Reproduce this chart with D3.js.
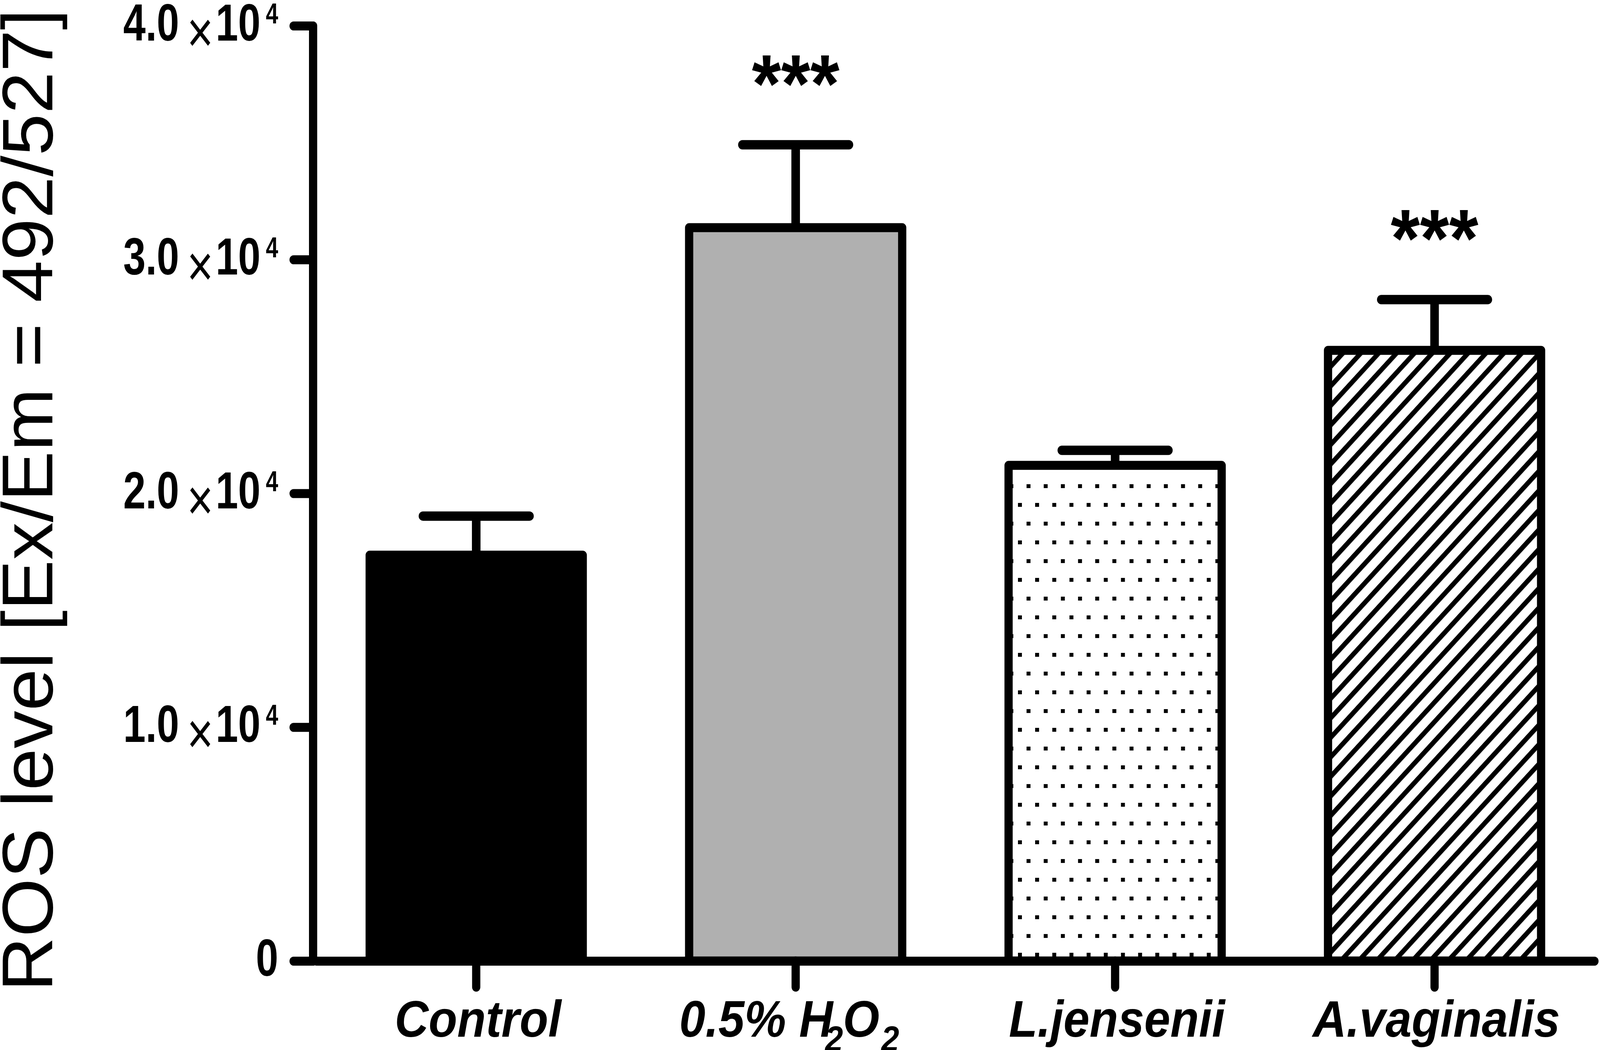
<!DOCTYPE html>
<html>
<head>
<meta charset="utf-8">
<script src="https://cdn.jsdelivr.net/npm/d3@7"></script>
<style>
  html, body { margin: 0; padding: 0; background: #ffffff; overflow: hidden; }
  svg { display: block; }
</style>
</head>
<body>
<script>
// ---------------- data ----------------
const categories = ["Control", "0.5% H2O2", "L.jensenii", "A.vaginalis"];
const means = [17356, 31364, 21197, 26117];
const sems = [1673, 3548, 644, 2172];
const significance = ["", "***", "", "***"];
const yTickValues = [0, 10000, 20000, 30000, 40000];
const yTickMantissa = ["0", "1.0", "2.0", "3.0", "4.0"];
const yTickExponent = ["", "4", "4", "4", "4"];
const yTitle = "ROS level [Ex/Em = 492/527]";

// ---------------- styling ----------------
const barFills = ["#000000", "url(#grayFill)", "url(#dotFill)", "url(#hatchFill)"];
const FONT = "'Liberation Sans', Arial, Helvetica, sans-serif";
const LW = 23;

const W = 4474, H = 2689;
const vw = window.innerWidth || W, vh = window.innerHeight || H;
const svg = d3.select("body").append("svg")
  .attr("width", vw).attr("height", vh)
  .attr("viewBox", `0 0 ${W} ${H}`)
  .attr("preserveAspectRatio", "none");
svg.append("rect").attr("width", W).attr("height", H).attr("fill", "#ffffff");

const x = d3.scaleBand().domain(categories)
  .range([885, 4458]).paddingInner(0.333).paddingOuter(0.1665);
const y = d3.scaleLinear().domain([0, 40000]).range([2461, 66]);

// ---------------- patterns ----------------
const defs = svg.append("defs");
defs.append("pattern").attr("id", "grayFill")
  .attr("patternUnits", "userSpaceOnUse").attr("width", 4).attr("height", 4)
  .append("rect").attr("width", 4).attr("height", 4).attr("fill", "#b0b0b0");

const dot = defs.append("pattern").attr("id", "dotFill")
  .attr("patternUnits", "userSpaceOnUse")
  .attr("x", 2870.5).attr("y", 2008).attr("width", 48).attr("height", 96);
dot.append("rect").attr("width", 48).attr("height", 96).attr("fill", "#fff");
dot.append("rect").attr("x", 0).attr("y", 0).attr("width", 11).attr("height", 10).attr("fill", "#000");
dot.append("rect").attr("x", 24).attr("y", 48).attr("width", 11).attr("height", 10).attr("fill", "#000");

const hatch = defs.append("pattern").attr("id", "hatchFill")
  .attr("patternUnits", "userSpaceOnUse")
  .attr("width", 35.36).attr("height", 35.36)
  .attr("patternTransform", "rotate(45)");
hatch.append("rect").attr("width", 35.36).attr("height", 35.36).attr("fill", "#fff");
hatch.append("rect").attr("x", 0).attr("width", 12.7).attr("height", 35.36).attr("fill", "#000");

// ---------------- bars ----------------
const rows = categories.map((c, i) => ({ c, i, m: means[i], e: sems[i], s: significance[i] }));
const bw = x.bandwidth();

svg.append("g").selectAll("rect").data(rows).join("rect")
  .attr("x", d => x(d.c))
  .attr("y", d => y(d.m))
  .attr("width", bw)
  .attr("height", d => y(0) - y(d.m))
  .attr("fill", d => barFills[d.i])
  .attr("stroke", "#000")
  .attr("stroke-width", LW)
  .attr("stroke-linejoin", "round");

// ---------------- error bars ----------------
const eg = svg.append("g").attr("stroke", "#000").attr("stroke-width", 24);
eg.selectAll("line.v").data(rows).join("line").attr("class", "v")
  .attr("x1", d => x(d.c) + bw / 2).attr("x2", d => x(d.c) + bw / 2)
  .attr("y1", d => y(d.m)).attr("y2", d => y(d.m + d.e));
eg.selectAll("line.cap").data(rows).join("line").attr("class", "cap")
  .attr("x1", d => x(d.c) + bw / 2 - bw / 4).attr("x2", d => x(d.c) + bw / 2 + bw / 4)
  .attr("y1", d => y(d.m + d.e)).attr("y2", d => y(d.m + d.e))
  .attr("stroke-linecap", "round");

// ---------------- significance ----------------
svg.append("g").selectAll("text").data(rows.filter(d => d.s)).join("text")
  .attr("x", d => x(d.c) + bw / 2)
  .attr("y", d => y(d.m + d.e) - 85)
  .attr("text-anchor", "middle")
  .attr("font-family", FONT).attr("font-weight", "bold").attr("font-size", 210)
  .attr("fill", "#000")
  .text(d => d.s);

// ---------------- axes ----------------
const yAxis = svg.append("g").attr("transform", "translate(875,0)")
  .call(d3.axisLeft(y).tickValues(yTickValues).tickSize(54).tickSizeOuter(0).tickFormat(""));
yAxis.select(".domain").attr("stroke", "#000").attr("stroke-width", LW).attr("stroke-linecap", "round");
yAxis.selectAll(".tick line").attr("stroke", "#000").attr("stroke-width", LW).attr("stroke-linecap", "round");

const xAxis = svg.append("g").attr("transform", "translate(0,2461)")
  .call(d3.axisBottom(x).tickSize(67).tickSizeOuter(0).tickFormat(""));
xAxis.select(".domain").attr("stroke", "#000").attr("stroke-width", LW).attr("stroke-linecap", "round");
xAxis.selectAll(".tick line").attr("stroke", "#000").attr("stroke-width", LW).attr("stroke-linecap", "round");

// ---------------- y tick labels ----------------
const yl = svg.append("g");
yTickValues.forEach((v, i) => {
  const g = yl.append("g").attr("transform", `translate(778,${y(v) + 38})`);
  const t = g.append("text").attr("transform", "scale(0.84,1)")
    .attr("text-anchor", "end").attr("font-family", FONT).attr("fill", "#000");
  t.append("tspan").attr("font-weight", "bold").attr("font-size", 134).text(yTickMantissa[i]);
  if (yTickExponent[i]) {
    t.append("tspan").attr("font-weight", "normal").attr("font-size", 150)
      .attr("dx", 26).attr("dy", 30).text("\u00d7");
    t.append("tspan").attr("font-weight", "bold").attr("font-size", 134)
      .attr("dx", 8).attr("dy", -30).text("10");
    t.append("tspan").attr("font-weight", "bold").attr("font-size", 74)
      .attr("dx", 18).attr("dy", -44).text(yTickExponent[i]);
  }
});

// ---------------- x tick labels ----------------
const xl = svg.append("g").attr("font-family", FONT).attr("font-weight", "bold")
  .attr("font-style", "italic").attr("fill", "#000");
rows.forEach(d => {
  const isChem = d.c === "0.5% H2O2";
  const t = xl.append("text")
    .attr("x", x(d.c) + bw / 2 + (isChem ? -18 : 5))
    .attr("y", 2655)
    .attr("text-anchor", "middle")
    .attr("font-size", 131);
  if (isChem) {
    t.append("tspan").text("0.5% H");
    t.append("tspan").attr("font-size", 90).attr("dx", -22).attr("dy", 37).text("2");
    t.append("tspan").attr("dy", -37).text("O");
    t.append("tspan").attr("font-size", 90).attr("dx", 5).attr("dy", 37).text("2");
  } else {
    t.text(d.c);
  }
});

// ---------------- y title ----------------
svg.append("text")
  .attr("transform", "translate(146,1281) rotate(-90)")
  .attr("text-anchor", "middle")
  .attr("font-family", FONT).attr("font-size", 200).attr("fill", "#000")
  .attr("textLength", 2516).attr("lengthAdjust", "spacingAndGlyphs")
  .text(yTitle);
</script>
</body>
</html>
